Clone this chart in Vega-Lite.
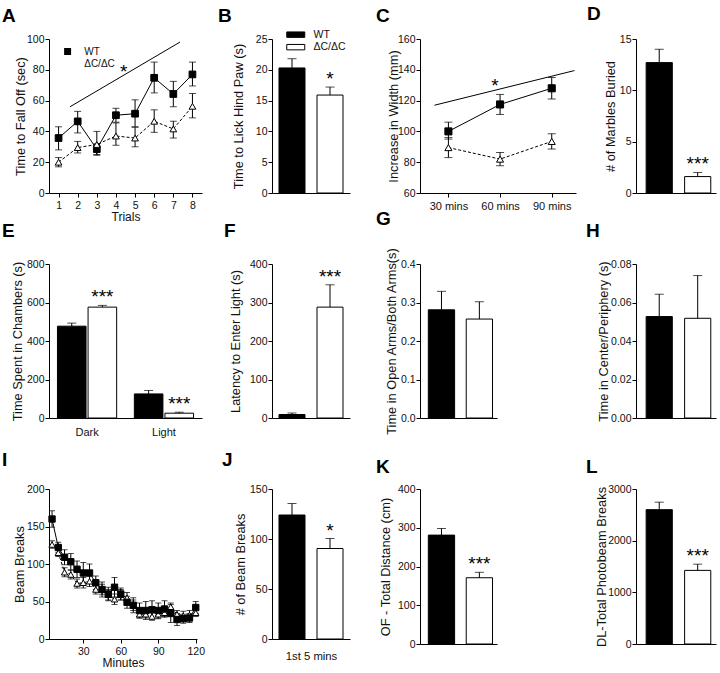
{
"$schema":"https://vega.github.io/schema/vega-lite/v6.json",
"padding":{"left":2,"top":4,"right":2,"bottom":4},
"background":"white",
"columns":7,
"spacing":{"row":71,"column":20},
"bounds":"flush",
"align":"each",
"center":{"row":true,"column":false},
"datasets":{
"A":[
{"t":1,"g":"WT","m":35.7,"lo":28,"hi":43},
{"t":2,"g":"WT","m":46.5,"lo":39,"hi":53},
{"t":3,"g":"WT","m":28.5,"lo":25,"hi":32},
{"t":4,"g":"WT","m":50.5,"lo":46,"hi":55},
{"t":5,"g":"WT","m":51.5,"lo":43,"hi":60.5},
{"t":6,"g":"WT","m":74.8,"lo":65,"hi":85},
{"t":7,"g":"WT","m":64.3,"lo":56,"hi":72.5},
{"t":8,"g":"WT","m":77,"lo":69.5,"hi":85},
{"t":1,"g":"ΔC/ΔC","m":20,"lo":17,"hi":23},
{"t":2,"g":"ΔC/ΔC","m":29.5,"lo":26,"hi":33.5},
{"t":3,"g":"ΔC/ΔC","m":31.5,"lo":24.5,"hi":40},
{"t":4,"g":"ΔC/ΔC","m":37,"lo":31,"hi":45.5},
{"t":5,"g":"ΔC/ΔC","m":35.7,"lo":30,"hi":42.7},
{"t":6,"g":"ΔC/ΔC","m":46.6,"lo":39.4,"hi":54},
{"t":7,"g":"ΔC/ΔC","m":41.6,"lo":35.7,"hi":46.6},
{"t":8,"g":"ΔC/ΔC","m":56.3,"lo":48.8,"hi":64.6}
],
"A_sig":[{"t":1.6,"m":56},{"t":7.35,"m":98}],
"A_star":[{"t":4.4,"m":82,"s":"*"}],
"B":[{"g":"WT","m":20.3,"hi":21.8,"s":""},{"g":"ΔC/ΔC","m":15.9,"hi":17.2,"s":"*"}],
"C":[
{"t":1,"g":"WT","m":100,"lo":95,"hi":106},
{"t":2,"g":"WT","m":117.5,"lo":111,"hi":124},
{"t":3,"g":"WT","m":128,"lo":121,"hi":135},
{"t":1,"g":"ΔC/ΔC","m":89.5,"lo":83,"hi":96},
{"t":2,"g":"ΔC/ΔC","m":82,"lo":77.7,"hi":86.3},
{"t":3,"g":"ΔC/ΔC","m":93.5,"lo":88.5,"hi":98.5}
],
"C_sig":[{"t":0.73,"m":117},{"t":3.44,"m":139.5}],
"C_star":[{"t":1.9,"m":132.6,"s":"*"}],
"D":[{"g":"WT","m":12.7,"hi":14.0,"s":""},{"g":"ΔC/ΔC","m":1.6,"hi":2.0,"s":"***"}],
"E":[
{"c":"Dark","g":"WT","m":477,"hi":493,"s":""},
{"c":"Dark","g":"ΔC/ΔC","m":576,"hi":585,"s":"***"},
{"c":"Light","g":"WT","m":125,"hi":143,"s":""},
{"c":"Light","g":"ΔC/ΔC","m":25,"hi":30,"s":"***"}
],
"F":[{"g":"WT","m":9,"hi":13,"s":""},{"g":"ΔC/ΔC","m":288,"hi":346,"s":"***"}],
"G":[{"g":"WT","m":0.281,"hi":0.329,"s":""},{"g":"ΔC/ΔC","m":0.257,"hi":0.302,"s":""}],
"H":[{"g":"WT","m":0.0527,"hi":0.0643,"s":""},{"g":"ΔC/ΔC","m":0.0518,"hi":0.074,"s":""}],
"I":[
{"t":5,"g":"WT","m":160,"lo":149,"hi":171},
{"t":10,"g":"WT","m":122,"lo":115,"hi":129},
{"t":15,"g":"WT","m":109,"lo":99,"hi":119},
{"t":20,"g":"WT","m":103,"lo":92,"hi":114},
{"t":25,"g":"WT","m":93,"lo":82,"hi":104},
{"t":30,"g":"WT","m":88,"lo":74,"hi":102},
{"t":35,"g":"WT","m":88,"lo":76,"hi":100},
{"t":40,"g":"WT","m":75,"lo":66,"hi":84},
{"t":45,"g":"WT","m":66,"lo":56,"hi":76},
{"t":50,"g":"WT","m":60,"lo":51,"hi":69},
{"t":55,"g":"WT","m":69,"lo":56,"hi":82},
{"t":60,"g":"WT","m":60,"lo":52,"hi":68},
{"t":65,"g":"WT","m":49,"lo":41,"hi":57},
{"t":70,"g":"WT","m":45,"lo":35,"hi":55},
{"t":75,"g":"WT","m":38,"lo":28,"hi":48},
{"t":80,"g":"WT","m":38,"lo":26,"hi":50},
{"t":85,"g":"WT","m":39,"lo":27,"hi":51},
{"t":90,"g":"WT","m":38,"lo":28,"hi":48},
{"t":95,"g":"WT","m":40,"lo":29,"hi":51},
{"t":100,"g":"WT","m":34,"lo":22,"hi":46},
{"t":105,"g":"WT","m":26,"lo":18,"hi":34},
{"t":110,"g":"WT","m":27,"lo":21,"hi":33},
{"t":115,"g":"WT","m":28,"lo":22,"hi":34},
{"t":120,"g":"WT","m":42,"lo":34,"hi":50},
{"t":5,"g":"ΔC/ΔC","m":126,"lo":121,"hi":131},
{"t":10,"g":"ΔC/ΔC","m":115,"lo":110,"hi":120},
{"t":15,"g":"ΔC/ΔC","m":89,"lo":83,"hi":95},
{"t":20,"g":"ΔC/ΔC","m":86,"lo":80,"hi":92},
{"t":25,"g":"ΔC/ΔC","m":74,"lo":68,"hi":80},
{"t":30,"g":"ΔC/ΔC","m":75,"lo":68,"hi":82},
{"t":35,"g":"ΔC/ΔC","m":77,"lo":70,"hi":84},
{"t":40,"g":"ΔC/ΔC","m":66,"lo":60,"hi":72},
{"t":45,"g":"ΔC/ΔC","m":66,"lo":59,"hi":73},
{"t":50,"g":"ΔC/ΔC","m":59,"lo":52,"hi":66},
{"t":55,"g":"ΔC/ΔC","m":53,"lo":46,"hi":60},
{"t":60,"g":"ΔC/ΔC","m":59,"lo":52,"hi":66},
{"t":65,"g":"ΔC/ΔC","m":55,"lo":48,"hi":62},
{"t":70,"g":"ΔC/ΔC","m":45,"lo":38,"hi":52},
{"t":75,"g":"ΔC/ΔC","m":33,"lo":28,"hi":38},
{"t":80,"g":"ΔC/ΔC","m":33,"lo":28,"hi":38},
{"t":85,"g":"ΔC/ΔC","m":30,"lo":25,"hi":35},
{"t":90,"g":"ΔC/ΔC","m":33,"lo":27,"hi":39},
{"t":95,"g":"ΔC/ΔC","m":35,"lo":30,"hi":40},
{"t":100,"g":"ΔC/ΔC","m":43,"lo":38,"hi":48},
{"t":105,"g":"ΔC/ΔC","m":33,"lo":28,"hi":38},
{"t":110,"g":"ΔC/ΔC","m":31,"lo":25,"hi":37},
{"t":115,"g":"ΔC/ΔC","m":32,"lo":26,"hi":38},
{"t":120,"g":"ΔC/ΔC","m":35,"lo":30,"hi":40}
],
"J":[{"g":"WT","m":124,"hi":135.5,"s":""},{"g":"ΔC/ΔC","m":90.5,"hi":100.5,"s":"*"}],
"K":[{"g":"WT","m":281,"hi":298,"s":""},{"g":"ΔC/ΔC","m":171,"hi":185,"s":"***"}],
"L":[{"g":"WT","m":2600,"hi":2745,"s":""},{"g":"ΔC/ΔC","m":1425,"hi":1545,"s":"***"}],
"S":[{"k":1}]
},
"concat":[
{
"width":153,"height":154,
"title":{"text":"A","dx":-47,"offset":8.3},
"data":{"name":"A"},
"encoding":{
"x":{"field":"t","type":"quantitative","scale":{"domain":[0.5,8.5],"nice":false,"zero":false},"axis":{"values":[1,2,3,4,5,6,7,8],"title":"Trials","titlePadding":1,"titleFontSize":12}},
"y":{"field":"m","type":"quantitative","scale":{"domain":[0,100],"nice":false},"axis":{"values":[0,20,40,60,80,100],"title":"Time to Fall Off (sec)","titleX":-29,"titleY":77,"titleBaseline":"middle"}}
},
"layer":[
{"data":{"name":"A_sig"},"mark":{"type":"line","color":"#000","strokeWidth":1},"encoding":{}},
{"data":{"name":"A_star"},"mark":{"type":"text","fontSize":19,"dy":11,"baseline":"alphabetic","color":"#000"},"encoding":{"text":{"field":"s"}}},
{"mark":{"type":"rule","color":"#000","strokeWidth":1},"encoding":{"y":{"field":"lo","type":"quantitative"},"y2":{"field":"hi"}}},
{"mark":{"type":"tick","orient":"horizontal","size":7,"thickness":1,"color":"#000"},"encoding":{"y":{"field":"hi","type":"quantitative"}}},
{"mark":{"type":"tick","orient":"horizontal","size":7,"thickness":1,"color":"#000"},"encoding":{"y":{"field":"lo","type":"quantitative"}}},
{"transform":[{"filter":"datum.g == 'WT'"}],"mark":{"type":"line","color":"#000","strokeWidth":1},"encoding":{}},
{"transform":[{"filter":"datum.g != 'WT'"}],"mark":{"type":"line","color":"#000","strokeWidth":1,"strokeDash":[3,2]},"encoding":{}},
{"transform":[{"filter":"datum.g == 'WT'"}],"mark":{"type":"point","shape":"square","filled":true,"fill":"#000","stroke":"#000","strokeWidth":1,"size":45,"opacity":1},"encoding":{}},
{"transform":[{"filter":"datum.g != 'WT'"}],"mark":{"type":"point","shape":"triangle-up","filled":true,"fill":"#fff","stroke":"#000","strokeWidth":1,"size":45,"opacity":1},"encoding":{}},
{"mark":{"type":"point","filled":true,"stroke":"#000","strokeWidth":1,"size":45,"opacity":0},"encoding":{
"shape":{"field":"g","type":"nominal","scale":{"domain":["WT","ΔC/ΔC"],"range":["M-1.95,0H1.95M-0.9,-0.9H0.9V0.9H-0.9Z","M-1.95,0H-1.65M-1.4,0H-1.1M1.1,0H1.4M1.65,0H1.95M0,-0.95L0.95,0.75H-0.95Z"]},"legend":{"orient":"none","legendX":13.6,"legendY":7.5,"title":null,"symbolSize":60,"symbolOpacity":1,"symbolStrokeColor":"#000","symbolStrokeWidth":1,"labelOffset":11.6,"rowPadding":0.5,"labelFontSize":10}},
"fill":{"field":"g","type":"nominal","scale":{"domain":["WT","ΔC/ΔC"],"range":["#000","#fff"]},"legend":{"orient":"none","legendX":13.6,"legendY":7.5,"title":null,"symbolSize":60,"symbolOpacity":1,"symbolStrokeColor":"#000","symbolStrokeWidth":1,"labelOffset":11.6,"rowPadding":0.5,"labelFontSize":10}}
}}
]
},
{"width":30,"height":10,"data":{"name":"S"},"mark":{"type":"point","opacity":0},"encoding":{}},
{
"width":78,"height":154,
"title":{"text":"B","dx":-54,"offset":3.8},
"data":{"name":"B"},
"encoding":{
"x":{"field":"g","type":"nominal","scale":{"domain":["WT","ΔC/ΔC"],"paddingInner":0.316,"paddingOuter":0.184},"axis":{"labels":false,"ticks":false,"title":null}},
"y":{"field":"m","type":"quantitative","scale":{"domain":[0,25],"nice":false},"axis":{"values":[0,5,10,15,20,25],"title":"Time to Lick Hind Paw (s)","titleX":-34,"titleY":77,"titleBaseline":"middle"}}
},
"layer":[
{"mark":{"type":"bar","stroke":"#000","strokeWidth":1},"encoding":{"fill":{"field":"g","type":"nominal","scale":{"domain":["WT","ΔC/ΔC"],"range":["#000","#fff"]},"legend":{"orient":"none","legendX":18.5,"legendY":-9.6,"title":null,"symbolType":"M-2,-0.6H2V0.6H-2Z","symbolSize":81,"symbolStrokeColor":"#000","symbolStrokeWidth":1,"labelOffset":12.5,"rowPadding":1.5,"labelFontSize":10.5}}}},
{"mark":{"type":"rule","color":"#000"},"encoding":{"y2":{"field":"hi"}}},
{"mark":{"type":"tick","orient":"horizontal","size":9,"thickness":1,"color":"#000"},"encoding":{"y":{"field":"hi","type":"quantitative"}}},
{"mark":{"type":"text","fontSize":19,"baseline":"alphabetic","dy":-2,"color":"#000"},"encoding":{"y":{"field":"hi","type":"quantitative"},"text":{"field":"s"}}}
]
},
{"width":30,"height":10,"data":{"name":"S"},"mark":{"type":"point","opacity":0},"encoding":{}},
{
"width":156,"height":154,
"title":{"text":"C","dx":-44,"offset":8.3},
"data":{"name":"C"},
"encoding":{
"x":{"field":"t","type":"quantitative","scale":{"domain":[0.45,3.47],"nice":false,"zero":false},"axis":{"values":[1,2,3],"labelExpr":"datum.value == 1 ? '30 mins' : datum.value == 2 ? '60 mins' : '90 mins'","title":null,"labelFontSize":11}},
"y":{"field":"m","type":"quantitative","scale":{"domain":[60,160],"nice":false,"zero":false},"axis":{"values":[60,80,100,120,140,160],"title":"Increase in Width (mm)","titleX":-27,"titleY":77,"titleBaseline":"middle"}}
},
"layer":[
{"data":{"name":"C_sig"},"mark":{"type":"line","color":"#000","strokeWidth":1},"encoding":{}},
{"data":{"name":"C_star"},"mark":{"type":"text","fontSize":19,"dy":11,"baseline":"alphabetic","color":"#000"},"encoding":{"text":{"field":"s"}}},
{"mark":{"type":"rule","color":"#000","strokeWidth":1},"encoding":{"y":{"field":"lo","type":"quantitative"},"y2":{"field":"hi"}}},
{"mark":{"type":"tick","orient":"horizontal","size":8,"thickness":1,"color":"#000"},"encoding":{"y":{"field":"hi","type":"quantitative"}}},
{"mark":{"type":"tick","orient":"horizontal","size":8,"thickness":1,"color":"#000"},"encoding":{"y":{"field":"lo","type":"quantitative"}}},
{"transform":[{"filter":"datum.g == 'WT'"}],"mark":{"type":"line","color":"#000","strokeWidth":1},"encoding":{}},
{"transform":[{"filter":"datum.g != 'WT'"}],"mark":{"type":"line","color":"#000","strokeWidth":1,"strokeDash":[3,2]},"encoding":{}},
{"mark":{"type":"point","filled":true,"stroke":"#000","strokeWidth":1,"size":50,"opacity":1},"encoding":{
"shape":{"field":"g","type":"nominal","scale":{"domain":["WT","ΔC/ΔC"],"range":["square","triangle-up"]},"legend":null},
"fill":{"field":"g","type":"nominal","scale":{"domain":["WT","ΔC/ΔC"],"range":["#000","#fff"]},"legend":null}
}}
]
},
{"width":20,"height":10,"data":{"name":"S"},"mark":{"type":"point","opacity":0},"encoding":{}},
{
"width":80,"height":154,
"title":{"text":"D","dx":-49,"offset":8.3},
"data":{"name":"D"},
"encoding":{
"x":{"field":"g","type":"nominal","scale":{"domain":["WT","ΔC/ΔC"],"paddingInner":0.32,"paddingOuter":0.2,"align":0.66},"axis":{"labels":false,"ticks":false,"title":null}},
"y":{"field":"m","type":"quantitative","scale":{"domain":[0,15],"nice":false},"axis":{"values":[0,5,10,15],"title":"# of Marbles Buried","titleX":-26,"titleY":77,"titleBaseline":"middle"}}
},
"layer":[
{"mark":{"type":"bar","stroke":"#000","strokeWidth":1},"encoding":{"fill":{"field":"g","type":"nominal","scale":{"domain":["WT","ΔC/ΔC"],"range":["#000","#fff"]},"legend":null}}},
{"mark":{"type":"rule","color":"#000"},"encoding":{"y2":{"field":"hi"}}},
{"mark":{"type":"tick","orient":"horizontal","size":9,"thickness":1,"color":"#000"},"encoding":{"y":{"field":"hi","type":"quantitative"}}},
{"mark":{"type":"text","fontSize":19,"baseline":"alphabetic","dy":-2,"color":"#000"},"encoding":{"y":{"field":"hi","type":"quantitative"},"text":{"field":"s"}}}
]
},
{
"width":153,"height":154,
"title":{"text":"E","dx":-47,"offset":18.5},
"data":{"name":"E"},
"encoding":{
"x":{"field":"c","type":"nominal","scale":{"domain":["Dark","Light"],"paddingInner":0.23,"paddingOuter":0.11},"axis":{"ticks":false,"title":null,"labelAngle":0,"labelPadding":8,"labelFontSize":11}},
"xOffset":{"field":"g","type":"nominal","scale":{"domain":["WT","ΔC/ΔC"],"paddingInner":0.066,"paddingOuter":0}},
"y":{"field":"m","type":"quantitative","scale":{"domain":[0,800],"nice":false},"axis":{"values":[0,200,400,600,800],"title":"Time Spent in Chambers (s)","titleX":-32,"titleY":77,"titleBaseline":"middle"}}
},
"layer":[
{"mark":{"type":"bar","stroke":"#000","strokeWidth":1},"encoding":{"fill":{"field":"g","type":"nominal","scale":{"domain":["WT","ΔC/ΔC"],"range":["#000","#fff"]},"legend":null}}},
{"mark":{"type":"rule","color":"#000"},"encoding":{"y2":{"field":"hi"}}},
{"mark":{"type":"tick","orient":"horizontal","size":9,"thickness":1,"color":"#000"},"encoding":{"y":{"field":"hi","type":"quantitative"}}},
{"mark":{"type":"text","fontSize":19,"baseline":"alphabetic","dy":-2,"color":"#000"},"encoding":{"y":{"field":"hi","type":"quantitative"},"text":{"field":"s"}}}
]
},
{"width":30,"height":10,"data":{"name":"S"},"mark":{"type":"point","opacity":0},"encoding":{}},
{
"width":78,"height":154,
"title":{"text":"F","dx":-48,"offset":18.5},
"data":{"name":"F"},
"encoding":{
"x":{"field":"g","type":"nominal","scale":{"domain":["WT","ΔC/ΔC"],"paddingInner":0.316,"paddingOuter":0.184},"axis":{"labels":false,"ticks":false,"title":null}},
"y":{"field":"m","type":"quantitative","scale":{"domain":[0,400],"nice":false},"axis":{"values":[0,100,200,300,400],"title":"Latency to Enter Light (s)","titleX":-37,"titleY":77,"titleBaseline":"middle"}}
},
"layer":[
{"mark":{"type":"bar","stroke":"#000","strokeWidth":1},"encoding":{"fill":{"field":"g","type":"nominal","scale":{"domain":["WT","ΔC/ΔC"],"range":["#000","#fff"]},"legend":null}}},
{"mark":{"type":"rule","color":"#000"},"encoding":{"y2":{"field":"hi"}}},
{"mark":{"type":"tick","orient":"horizontal","size":9,"thickness":1,"color":"#000"},"encoding":{"y":{"field":"hi","type":"quantitative"}}},
{"mark":{"type":"text","fontSize":19,"baseline":"alphabetic","dy":-2,"color":"#000"},"encoding":{"y":{"field":"hi","type":"quantitative"},"text":{"field":"s"}}}
]
},
{"width":30,"height":10,"data":{"name":"S"},"mark":{"type":"point","opacity":0},"encoding":{}},
{
"width":77,"height":154,
"title":{"text":"G","dx":-44,"offset":18.5},
"data":{"name":"G"},
"encoding":{
"x":{"field":"g","type":"nominal","scale":{"domain":["WT","ΔC/ΔC"],"paddingInner":0.306,"paddingOuter":0.169,"align":0.65},"axis":{"labels":false,"ticks":false,"title":null}},
"y":{"field":"m","type":"quantitative","scale":{"domain":[0,0.4],"nice":false},"axis":{"values":[0,0.1,0.2,0.3,0.4],"format":".1f","title":"Time in Open Arms/Both Arms(s)","titleX":-29,"titleY":77,"titleBaseline":"middle"}}
},
"layer":[
{"mark":{"type":"bar","stroke":"#000","strokeWidth":1},"encoding":{"fill":{"field":"g","type":"nominal","scale":{"domain":["WT","ΔC/ΔC"],"range":["#000","#fff"]},"legend":null}}},
{"mark":{"type":"rule","color":"#000"},"encoding":{"y2":{"field":"hi"}}},
{"mark":{"type":"tick","orient":"horizontal","size":9,"thickness":1,"color":"#000"},"encoding":{"y":{"field":"hi","type":"quantitative"}}}
]
},
{"width":20,"height":10,"data":{"name":"S"},"mark":{"type":"point","opacity":0},"encoding":{}},
{
"width":80,"height":154,
"title":{"text":"H","dx":-50,"offset":18.5},
"data":{"name":"H"},
"encoding":{
"x":{"field":"g","type":"nominal","scale":{"domain":["WT","ΔC/ΔC"],"paddingInner":0.32,"paddingOuter":0.2,"align":0.66},"axis":{"labels":false,"ticks":false,"title":null}},
"y":{"field":"m","type":"quantitative","scale":{"domain":[0,0.08],"nice":false},"axis":{"values":[0,0.02,0.04,0.06,0.08],"format":".2f","title":"Time in Center/Periphery (s)","titleX":-32.5,"titleY":77,"titleBaseline":"middle"}}
},
"layer":[
{"mark":{"type":"bar","stroke":"#000","strokeWidth":1},"encoding":{"fill":{"field":"g","type":"nominal","scale":{"domain":["WT","ΔC/ΔC"],"range":["#000","#fff"]},"legend":null}}},
{"mark":{"type":"rule","color":"#000"},"encoding":{"y2":{"field":"hi"}}},
{"mark":{"type":"tick","orient":"horizontal","size":9,"thickness":1,"color":"#000"},"encoding":{"y":{"field":"hi","type":"quantitative"}}}
]
},
{
"width":148,"height":150,
"title":{"text":"I","dx":-47,"offset":14},
"data":{"name":"I"},
"encoding":{
"x":{"field":"t","type":"quantitative","scale":{"domain":[2.56,121],"nice":false,"zero":false},"axis":{"values":[30,60,90,120],"title":"Minutes","titlePadding":1,"titleFontSize":12}},
"y":{"field":"m","type":"quantitative","scale":{"domain":[0,200],"nice":false},"axis":{"values":[0,50,100,150,200],"title":"Beam Breaks","titleX":-29.5,"titleY":75,"titleBaseline":"middle"}}
},
"layer":[
{"mark":{"type":"rule","color":"#000","strokeWidth":1},"encoding":{"y":{"field":"lo","type":"quantitative"},"y2":{"field":"hi"}}},
{"mark":{"type":"tick","orient":"horizontal","size":6,"thickness":1,"color":"#000"},"encoding":{"y":{"field":"hi","type":"quantitative"}}},
{"mark":{"type":"tick","orient":"horizontal","size":6,"thickness":1,"color":"#000"},"encoding":{"y":{"field":"lo","type":"quantitative"}}},
{"transform":[{"filter":"datum.g == 'WT'"}],"mark":{"type":"line","color":"#000","strokeWidth":1},"encoding":{}},
{"transform":[{"filter":"datum.g != 'WT'"}],"mark":{"type":"line","color":"#000","strokeWidth":1,"strokeDash":[3,2]},"encoding":{}},
{"mark":{"type":"point","filled":true,"stroke":"#000","strokeWidth":1,"size":40,"opacity":1},"encoding":{
"shape":{"field":"g","type":"nominal","scale":{"domain":["ΔC/ΔC","WT"],"range":["triangle-up","square"]},"legend":null},
"fill":{"field":"g","type":"nominal","scale":{"domain":["ΔC/ΔC","WT"],"range":["#fff","#000"]},"legend":null},
"order":{"field":"g","sort":"descending"}
}}
]
},
{"width":30,"height":10,"data":{"name":"S"},"mark":{"type":"point","opacity":0},"encoding":{}},
{
"width":78,"height":150,
"title":{"text":"J","dx":-50,"offset":14},
"data":{"name":"J"},
"encoding":{
"x":{"field":"g","type":"nominal","scale":{"domain":["WT","ΔC/ΔC"],"paddingInner":0.316,"paddingOuter":0.184},"axis":{"labels":false,"ticks":false,"title":"1st 5 mins","titlePadding":11,"titleFontSize":11.3}},
"y":{"field":"m","type":"quantitative","scale":{"domain":[0,150],"nice":false},"axis":{"values":[0,50,100,150],"title":"# of Beam Breaks","titleX":-32,"titleY":75,"titleBaseline":"middle"}}
},
"layer":[
{"mark":{"type":"bar","stroke":"#000","strokeWidth":1},"encoding":{"fill":{"field":"g","type":"nominal","scale":{"domain":["WT","ΔC/ΔC"],"range":["#000","#fff"]},"legend":null}}},
{"mark":{"type":"rule","color":"#000"},"encoding":{"y2":{"field":"hi"}}},
{"mark":{"type":"tick","orient":"horizontal","size":9,"thickness":1,"color":"#000"},"encoding":{"y":{"field":"hi","type":"quantitative"}}},
{"mark":{"type":"text","fontSize":19,"baseline":"alphabetic","dy":-2,"color":"#000"},"encoding":{"y":{"field":"hi","type":"quantitative"},"text":{"field":"s"}}}
]
},
{"width":30,"height":10,"data":{"name":"S"},"mark":{"type":"point","opacity":0},"encoding":{}},
{
"width":77,"height":155,
"title":{"text":"K","dx":-44,"offset":7.5},
"data":{"name":"K"},
"encoding":{
"x":{"field":"g","type":"nominal","scale":{"domain":["WT","ΔC/ΔC"],"paddingInner":0.306,"paddingOuter":0.169,"align":0.65},"axis":{"labels":false,"ticks":false,"title":null}},
"y":{"field":"m","type":"quantitative","scale":{"domain":[0,400],"nice":false},"axis":{"values":[0,100,200,300,400],"title":"OF - Total Distance (cm)","titleX":-35,"titleY":77.5,"titleBaseline":"middle"}}
},
"layer":[
{"mark":{"type":"bar","stroke":"#000","strokeWidth":1},"encoding":{"fill":{"field":"g","type":"nominal","scale":{"domain":["WT","ΔC/ΔC"],"range":["#000","#fff"]},"legend":null}}},
{"mark":{"type":"rule","color":"#000"},"encoding":{"y2":{"field":"hi"}}},
{"mark":{"type":"tick","orient":"horizontal","size":9,"thickness":1,"color":"#000"},"encoding":{"y":{"field":"hi","type":"quantitative"}}},
{"mark":{"type":"text","fontSize":19,"baseline":"alphabetic","dy":-2,"color":"#000"},"encoding":{"y":{"field":"hi","type":"quantitative"},"text":{"field":"s"}}}
]
},
{"width":20,"height":10,"data":{"name":"S"},"mark":{"type":"point","opacity":0},"encoding":{}},
{
"width":80,"height":155,
"title":{"text":"L","dx":-50,"offset":7.5},
"data":{"name":"L"},
"encoding":{
"x":{"field":"g","type":"nominal","scale":{"domain":["WT","ΔC/ΔC"],"paddingInner":0.32,"paddingOuter":0.2,"align":0.66},"axis":{"labels":false,"ticks":false,"title":null}},
"y":{"field":"m","type":"quantitative","scale":{"domain":[0,3000],"nice":false},"axis":{"values":[0,1000,2000,3000],"format":"d","title":"DL-Total Photobeam Breaks","titleX":-34.5,"titleY":77.5,"titleBaseline":"middle"}}
},
"layer":[
{"mark":{"type":"bar","stroke":"#000","strokeWidth":1},"encoding":{"fill":{"field":"g","type":"nominal","scale":{"domain":["WT","ΔC/ΔC"],"range":["#000","#fff"]},"legend":null}}},
{"mark":{"type":"rule","color":"#000"},"encoding":{"y2":{"field":"hi"}}},
{"mark":{"type":"tick","orient":"horizontal","size":9,"thickness":1,"color":"#000"},"encoding":{"y":{"field":"hi","type":"quantitative"}}},
{"mark":{"type":"text","fontSize":19,"baseline":"alphabetic","dy":-2,"color":"#000"},"encoding":{"y":{"field":"hi","type":"quantitative"},"text":{"field":"s"}}}
]
}
],
"resolve":{
"scale":{"x":"independent","y":"independent","xOffset":"independent","fill":"independent","shape":"independent"},
"axis":{"x":"independent","y":"independent"},
"legend":{"fill":"independent","shape":"independent"}
},
"config":{
"font":"Liberation Sans",
"view":{"stroke":null},
"axis":{"domainColor":"#000","tickColor":"#000","labelColor":"#111","titleColor":"#111","labelFontSize":10.5,"titleFontSize":12.8,"titleFontWeight":"normal","tickSize":4,"labelPadding":1,"grid":false,"labelFont":"Liberation Sans","titleFont":"Liberation Sans"},
"axisX":{"labelPadding":3},
"title":{"fontSize":19,"fontWeight":"bold","anchor":"start","frame":"group","color":"#000","baseline":"bottom","font":"Liberation Sans"},
"legend":{"labelFontSize":10.5,"labelColor":"#111","padding":0,"labelFont":"Liberation Sans"},
"text":{"font":"Liberation Sans"}
}
}
